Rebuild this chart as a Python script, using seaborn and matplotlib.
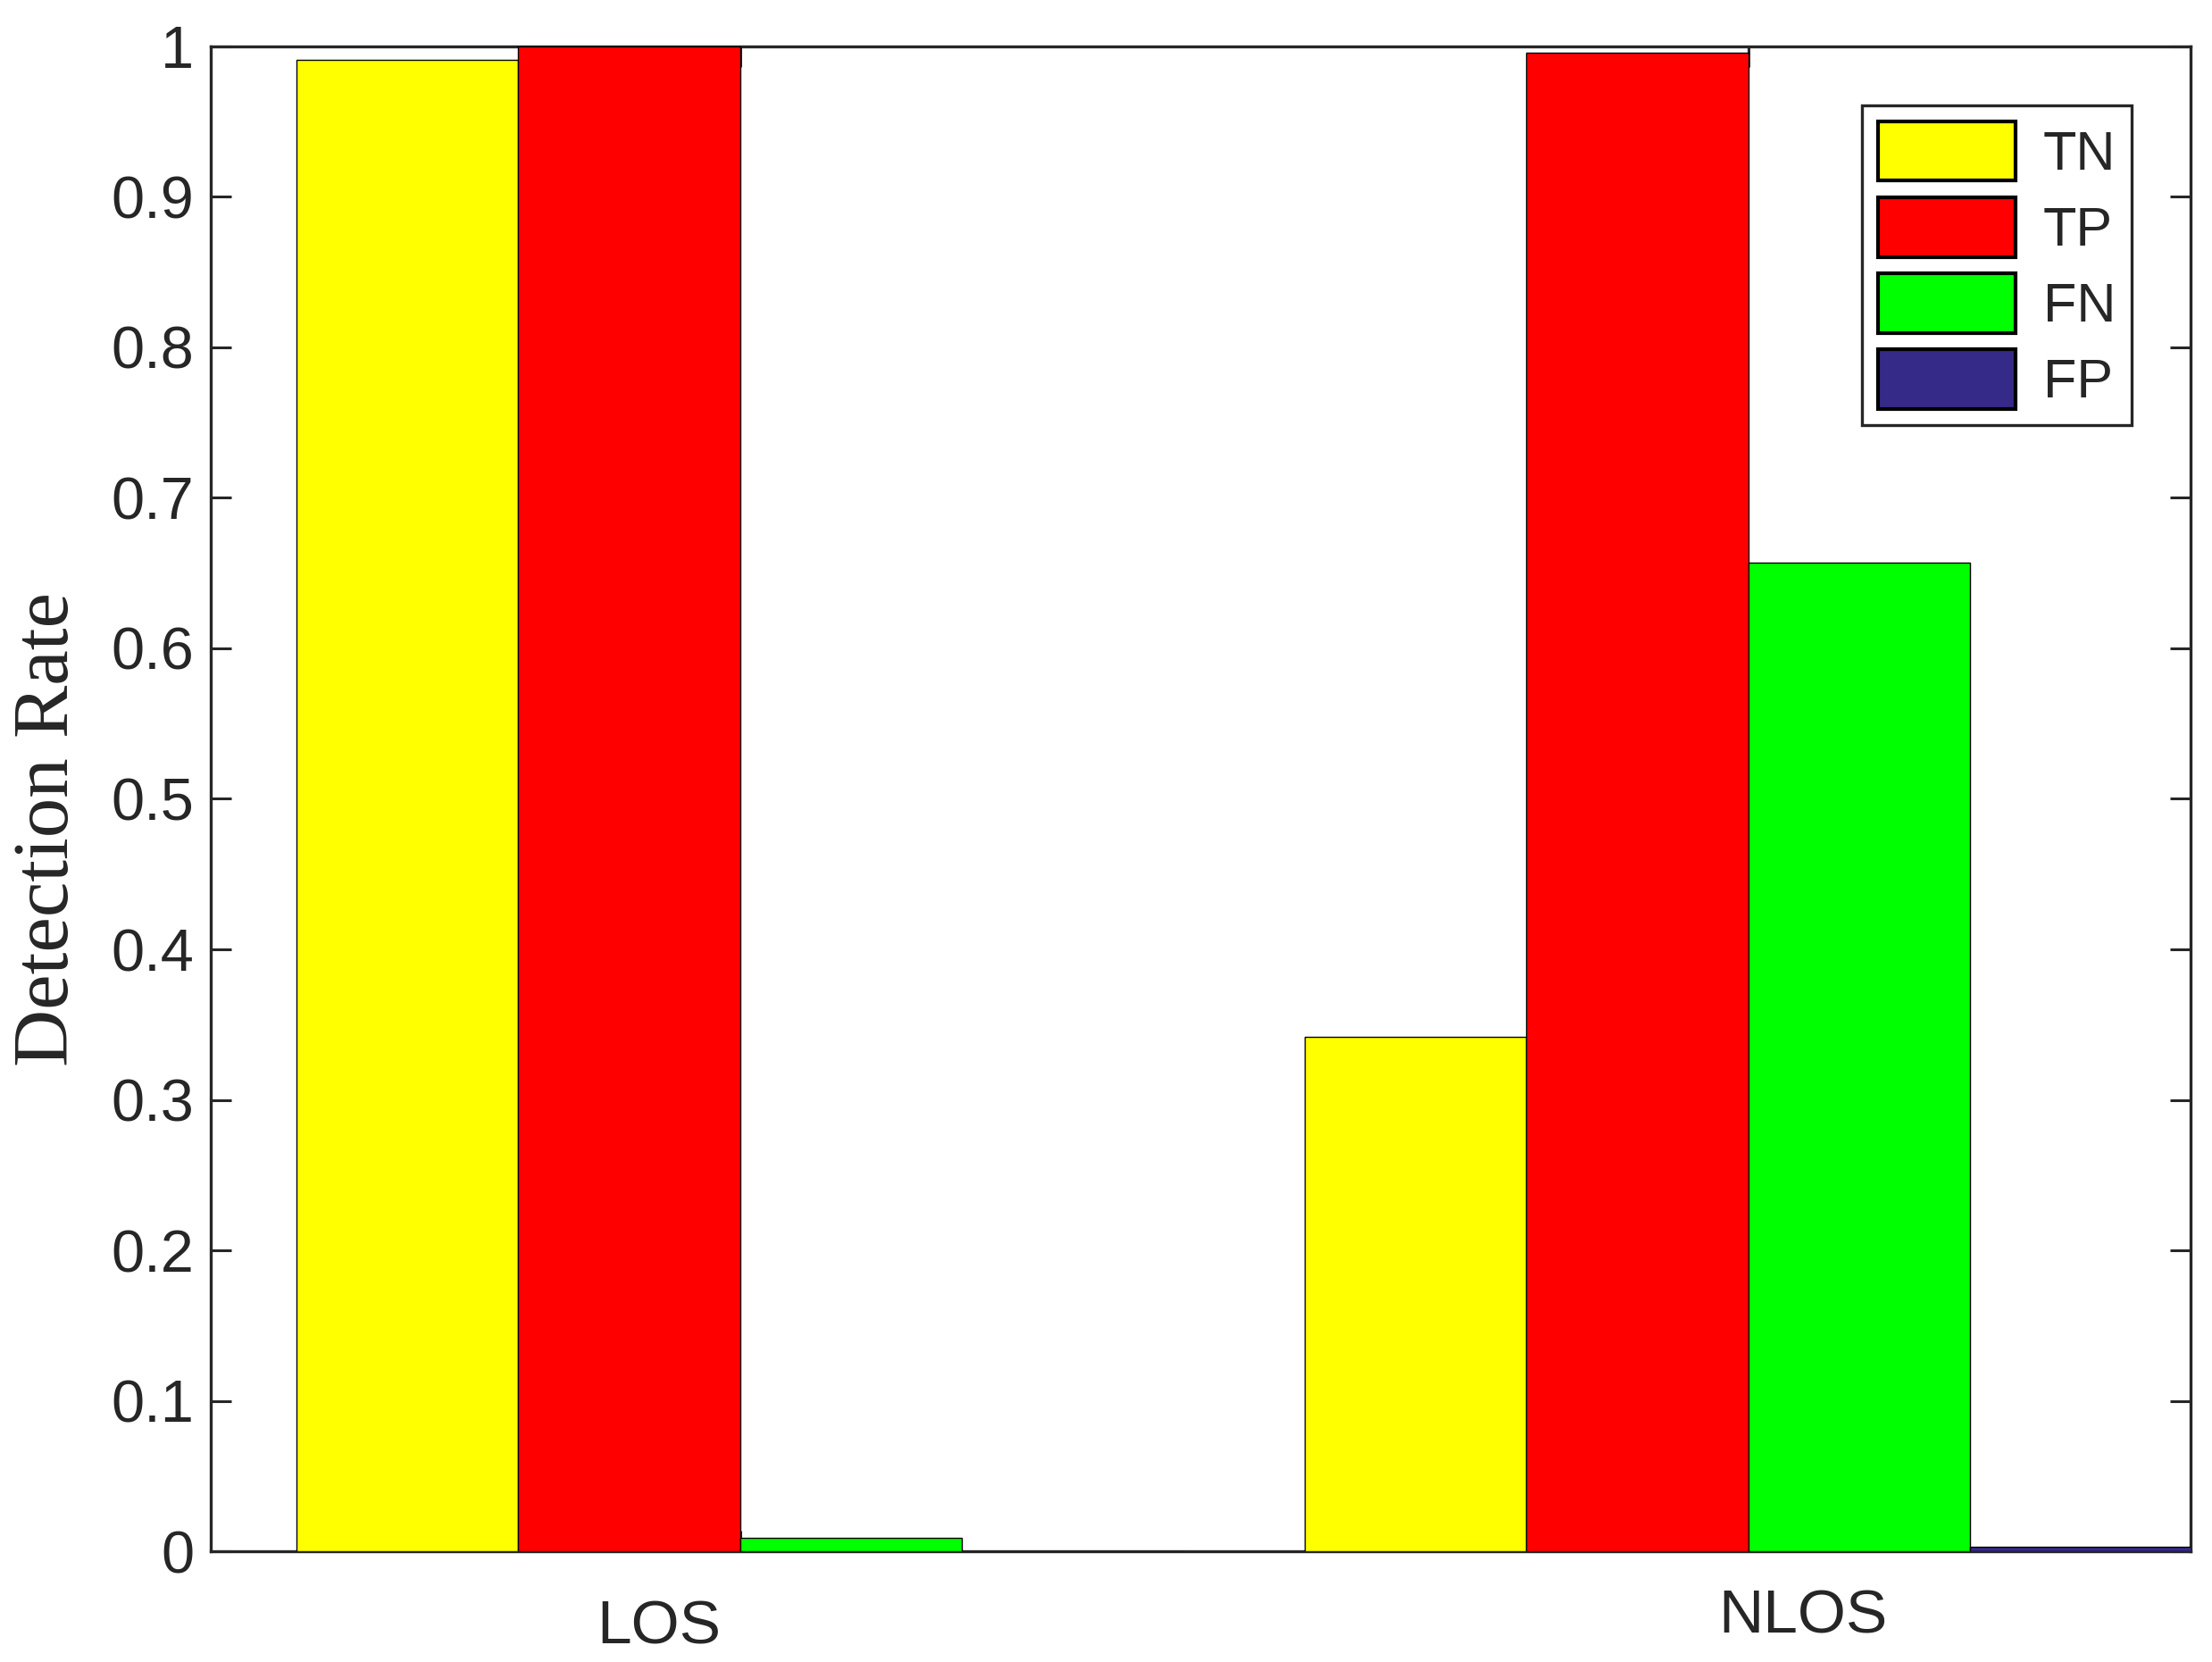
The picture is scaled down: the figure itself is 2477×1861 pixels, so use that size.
import numpy as np
import pandas as pd
import matplotlib
matplotlib.use("Agg")
import matplotlib.pyplot as plt
import seaborn as sns

# data
scenes = ["LOS", "NLOS"]
metrics = ["TN", "TP", "FN", "FP"]
tn = [0.991, 0.342]
tp = [1.0, 0.9955]
fn = [0.009, 0.657]
fp = [0.0, 0.0035]
colors = ["#ffff00", "#ff0000", "#00ff00", "#352a87"]
yticks = [0, 0.1, 0.2, 0.3, 0.4, 0.5, 0.6, 0.7, 0.8, 0.9, 1]
ytick_labels = ["0", "0.1", "0.2", "0.3", "0.4", "0.5", "0.6", "0.7", "0.8", "0.9", "1"]

df = pd.DataFrame({
    "scene": scenes * 4,
    "metric": np.repeat(metrics, 2),
    "rate": tn + tp + fn + fp,
})

sns.set_theme(style="white")
plt.rcParams["font.family"] = ["Liberation Sans", "DejaVu Sans"]
dark = "#262626"

fig = plt.figure(figsize=(12.385, 9.305), dpi=200)
ax = fig.add_axes([0.0953, 0.0664, 0.8952, 0.9059])

sns.barplot(data=df, x="scene", y="rate", hue="metric", order=scenes,
            hue_order=metrics, palette=colors, saturation=1, width=0.88,
            gap=0, errorbar=None, edgecolor="black", linewidth=0.5, ax=ax)
for p in ax.patches:
    p.set_zorder(3)

ax.set_xlim(-0.525, 1.439)
ax.set_ylim(0, 1)
ax.set_yticks(yticks)
ax.set_yticklabels(ytick_labels)
ax.set_xticks([0, 1])
ax.set_xticklabels([])
ax.set_xlabel("")

for s in ax.spines.values():
    s.set_visible(True)
    s.set_linewidth(1.2)
    s.set_color(dark)
ax.tick_params(axis="both", direction="in", length=8.3, width=1.1, color=dark,
               labelsize=24, labelcolor=dark, pad=6.8,
               left=True, right=True, top=True, bottom=True)
ax.tick_params(axis="x", labelbottom=False)

# group names are placed as plain text under the axis
ax.text(-0.081, -0.0505, "LOS", transform=ax.get_xaxis_transform(),
        ha="center", va="center", fontsize=25, color=dark)
ax.text(1.054, -0.0435, "NLOS", transform=ax.get_xaxis_transform(),
        ha="center", va="center", fontsize=25, color=dark)

ax.set_ylabel("Detection Rate", family=["Liberation Serif", "DejaVu Serif"],
              fontsize=32, color=dark, va="center")
ax.yaxis.set_label_coords(-0.082, 0.48)

handles, labels = ax.get_legend_handles_labels()
leg = ax.legend(handles, labels, loc="upper right", fontsize=22,
                handlelength=2.52, handleheight=1.3, labelspacing=0.3,
                borderpad=0.3, handletextpad=0.5, borderaxespad=1.08,
                fancybox=False, framealpha=1, edgecolor=dark)
leg.get_frame().set_linewidth(1.2)
for h in leg.legend_handles:
    h.set_linewidth(1.5)
    h.set_edgecolor("black")

fig.savefig("out.png", dpi=200)
